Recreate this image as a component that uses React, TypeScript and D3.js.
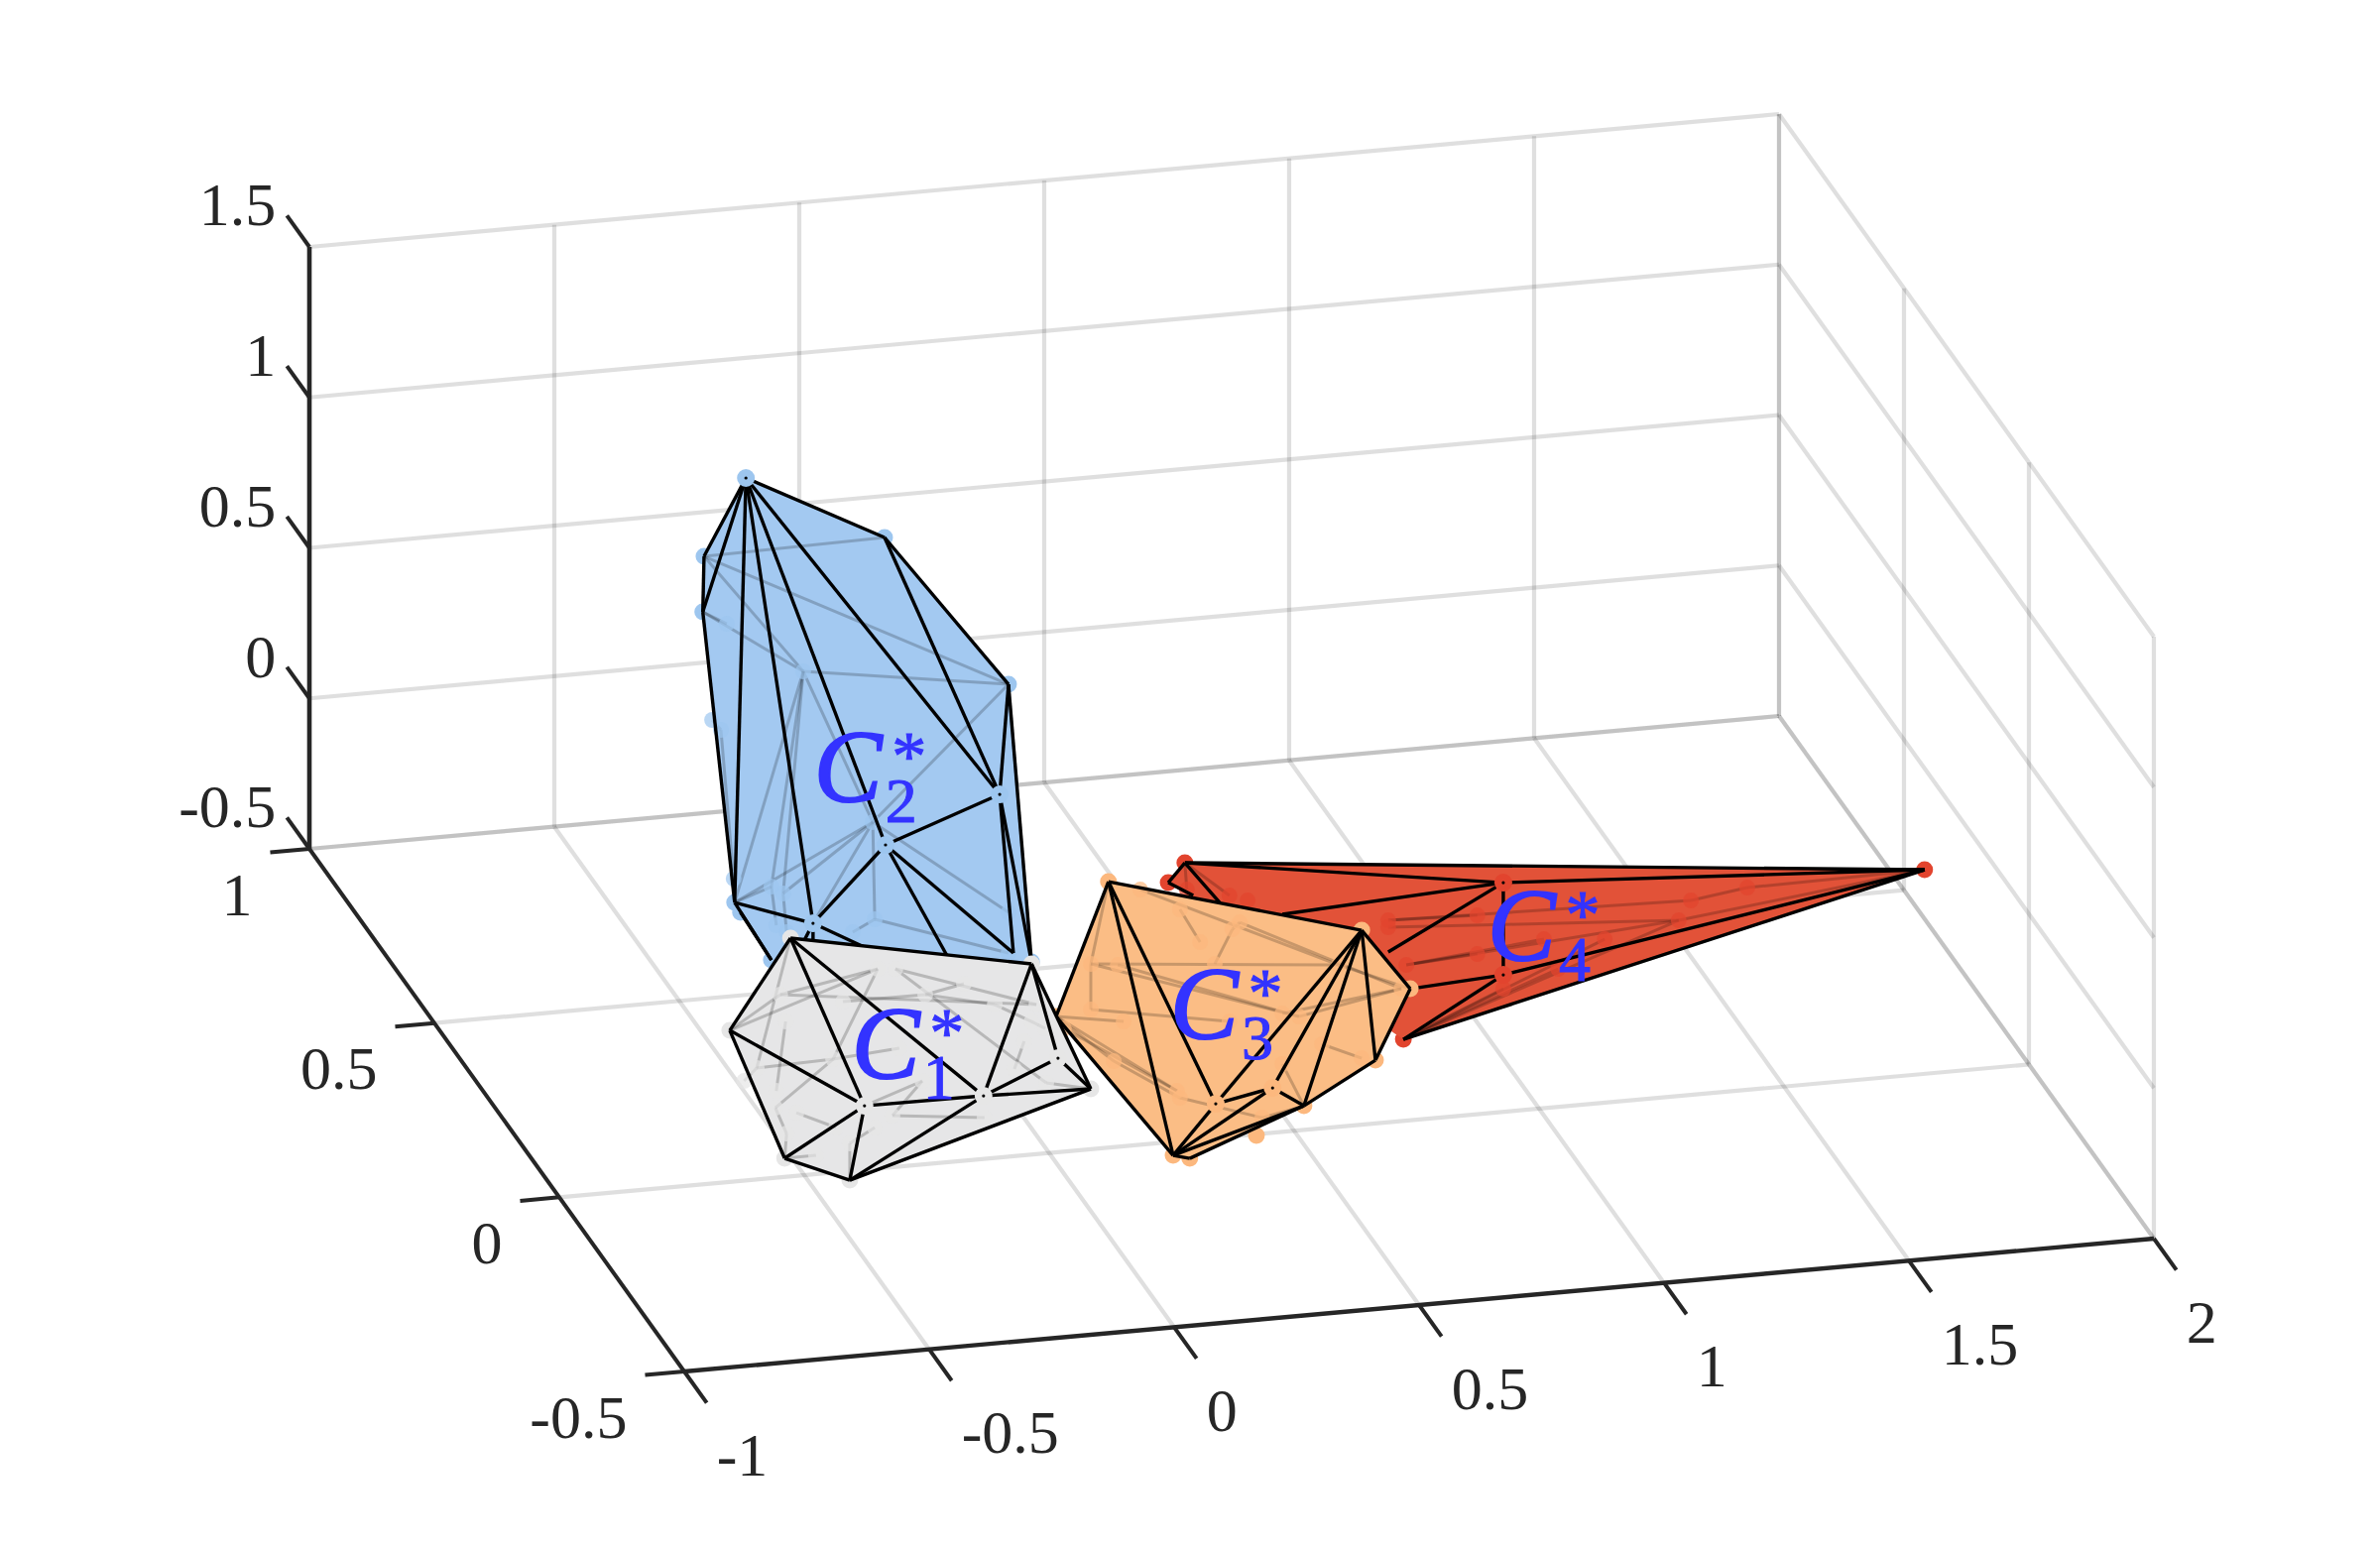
import React from "react";
import * as d3 from "d3";

type V = [number, number, number];
type Verts = Record<string, V>;

const xTicks = [-1, -0.5, 0, 0.5, 1, 1.5, 2];
const yTicks = [-0.5, 0, 0.5, 1];
const zTicks = [-0.5, 0, 0.5, 1, 1.5];
const tickText = (v: number) => String(v);

// ---- cluster C2 ----
const c2Outer: Verts = {
  A: [-0.364, 0.5, 1.2175], B: [-0.4495, 0.5, 0.9697], C: [-0.452, 0.5, 0.7855], D: [-0.081, 0.5, 0.9781],
  E: [0.172, 0.5, 0.4531], F: [0.154, 0.5, 0.0901], G: [-0.079, 0.5, -0.0436], H: [-0.387, 0.5, -0.1895],
  I: [-0.227, 0.5, -0.2822], K: [0.182, 0.5, -0.4413], L: [0.219, 0.5, -0.4763], N: [-0.375, 0.5, -0.2242],
  P: [-0.312, 0.5, -0.3917], O: [0.057, 0.5, -0.4623], Y: [-0.079, 0.5, -0.416], Y2: [-0.227, 0.5, -0.3778], Y3: [-0.257, 0.5, -0.3733],
};
const c2Hidden: Verts = {
  M: [-0.433, 0.5, 0.4236], Q: [-0.247, 0.5, 0.5577], R: [-0.105, 0.5, 0.0359], T1: [-0.101, 0.5, -0.2876],
  U: [-0.312, 0.5, -0.1478], V: [-0.288, 0.5, -0.1744], W1: [0.172, 0.5, -0.3047], W2: [0.172, 0.5, -0.4398],
  W3: [-0.281, 0.5, -0.3038], W4: [-0.302, 0.5, -0.2778], W6: [-0.146, 0.5, -0.3238], X1: [-0.403, 0.5, 0.7387],
  W8: [-0.415, 0.5, 0.388], W9: [-0.389, 0.5, -0.1101],
};
const c2Front = "A-B B-C A-C C-H A-H A-I A-G A-F A-D D-E D-F E-F E-L F-G F-K F-L G-I G-K G-O H-I H-P N-P I-Y I-Y2 I-Y3".split(" ");
const c2Back = "B-D B-E Q-E Q-C Q-B Q-H Q-U Q-V Q-R R-E R-H R-W1 R-T1 R-I T1-W2 T1-W6 U-H U-W4 V-W3 V-R C-X1 M-W8 W8-W9 E-L".split(" ");
const c2Covered = ["A", "G", "I", "F"];

// ---- cluster C1 ----
const c1Outer: Verts = {
  a: [-0.528, 0, 0.2915], b: [-0.036, 0, 0.1335], c: [-0.652, 0, 0.0032], d: [-0.377, 0, -0.2877],
  e: [-0.134, 0, -0.2905], f: [0.018, 0, -0.1877], g: [0.085, 0, -0.2996], h: [-0.54, 0, -0.4382], i: [-0.407, 0, -0.5304],
};
const c1Hidden: Verts = {
  k: [-0.008, 0, -0.0849], m: [-0.623, 0, -0.169], p1: [-0.35, 0, 0.1631], p2: [-0.549, 0, 0.1067], p3: [-0.174, 0, 0.0878],
  p4: [-0.314, 0, 0.1578], p5: [-0.441, 0, -0.1233], p6: [-0.559, 0, -0.2675], p7: [-0.036, 0, -0.0577], p8: [-0.536, 0, -0.3564],
  p9: [-0.306, 0, -0.107], p10: [-0.132, 0, -0.3633], p11: [-0.051, 0, -0.1216], p12: [-0.538, 0, 0.0162], p13: [-0.026, 0, -0.0031],
  p14: [-0.597, 0, -0.13], p15: [-0.557, 0, -0.2118], p16: [-0.421, 0, 0.0648], p17: [-0.253, 0, 0.0631], p18: [-0.111, 0, 0.0094],
  p19: [-0.516, 0, -0.2902], p20: [-0.435, 0, -0.3515], p21: [-0.32, 0, -0.329], p22: [-0.006, 0, -0.2664], p24: [-0.071, 0, -0.2108],
  p25: [-0.259, 0, -0.2227], p26: [-0.476, 0, -0.4379], p27: [-0.407, 0, -0.4084], p28: [-0.356, 0, -0.3632],
};
const c1Front = "a-b a-c a-d a-e c-d c-h b-e b-f b-g d-e d-h d-i e-f e-g e-i h-i i-g f-g".split(" ");
const c1Back = "c-p2 p2-p1 c-p1 a-p14 p2-p13 p4-p13 p4-p22 p12-p15 p14-p5 p5-p9 p5-p6 p5-p1 p6-p8 p8-h p19-p20 p21-p10 p11-p24 p7-p18 p3-p17 i-p27 p26-h p27-p28 g-p22 d-p25 p16-p17 k-p7 i-g m-p14 p17-p18 p25-p21".split(" ");
const c1Covered = ["d", "e", "f"];

// ---- cluster C3 ----
const c3Outer: Verts = {
  A: [0.121, 0, 0.3836], B: [0.638, 0, 0.1462], C: [0.737, 0, -0.0628], D: [0.666, 0, -0.2896], E: [0.52, 0, -0.4197],
  F: [0.423, 0, -0.5043], G: [0.287, 0, -0.5601], H: [0.253, 0, -0.5451], I: [0.34, 0, -0.3866], J: [0.456, 0, -0.3509], K: [0.014, 0, -0.0487],
};
const c3Hidden: Verts = {
  q1: [0.085, 0, 0.1156], q2: [0.085, 0, -0.036], q3: [0.719, 0, -0.0601], q4: [0.51, 0, -0.1217], q5: [0.638, 0, -0.2789],
  q6: [0.261, 0, -0.3321], q7: [0.374, 0, 0.1883], q8: [0.338, 0, 0.0783], q9: [0.267, 0, 0.27], q10: [0.308, 0, 0.1552],
  q11: [0.591, 0, 0.0378], q12: [0.186, 0, 0.3478], q13: [0.03, 0, -0.0906], q14: [0.14, 0, 0.1042], q15: [0.389, 0, 0.2092],
  q16: [0.152, 0, -0.0854], q17: [0.368, 0, -0.1173], q18: [0.476, 0, -0.1067], q19: [0.132, 0, -0.2143], q20: [0.557, 0, -0.2207],
  q21: [0.267, 0, -0.3561], q22: [0.435, 0, -0.4468], q23: [0.476, 0, -0.2747],
};
const c3Front = "A-B A-K A-H A-I K-H B-C B-D B-E B-J B-I C-D D-E E-H E-J I-J I-H J-H E-G G-H".split(" ");
const c3Back = "A-q1 q1-q4 q1-q11 q1-q2 q2-q17 K-q16 K-q6 K-q19 q13-q6 q12-q11 q9-q10 q7-q8 q7-q15 q3-q4 C-q11 q3-q18 q5-q20 q19-q21 q21-q22 q22-E q23-E q14-q4 q15-q3".split(" ");
const c3Covered = ["I", "J"];

// ---- cluster C4 ----
const c4Outer: Verts = {
  T: [1.787, 0, 0.178], a: [0.277, 0, 0.4233], b: [0.243, 0, 0.3624], c: [0.723, 0, -0.2288], d: [0.927, 0, 0.2617], e: [0.927, 0, -0.0447],
  s1: [0.348, 0, 0.281], s2: [0.476, 0, 0.2228], s3: [0.692, 0, 0.0657], s4: [0.294, 0, 0.3122], s5: [0.737, 0, -0.0628],
};
const c4Hidden: Verts = {
  r1: [1.285, 0, 0.0838], r2: [0.692, 0, 0.1711], r3: [0.692, 0, 0.1481], r4: [0.729, 0, 0.0175], r5: [1.425, 0, 0.172],
  r6: [1.31, 0, 0.1461], r7: [1.134, 0, 0.0435], r8: [1.01, 0, 0.0617], r9: [1.039, 0, -0.0413], r10: [0.927, 0, -0.0908],
  r13: [0.368, 0, 0.3012], r17: [0.405, 0, 0.2793], r14: [0.874, 0, 0.0323], r15: [0.874, 0, 0.1608], r16: [0.281, 0, 0.3338],
};
const c4Front = "a-T a-d a-s1 s2-d d-T d-e d-s3 e-T e-s5 e-c c-T b-a b-s4".split(" ");
const c4Back = "T-r5 r5-r6 r6-r2 T-r1 r1-r3 r1-r4 r1-c r7-c r9-c r10-c r2-r15 r4-r14 a-r16 r8-r4 T-c a-r13".split(" ");
const c4Covered = ["d", "e"];

const clusters = [
  { outer: c2Outer, hidden: c2Hidden, front: c2Front, back: c2Back, covered: c2Covered, hull: ["A", "B", "C", "H", "N", "P", "K", "L", "E", "D"], fill: "#a3c9f1", dot: "#9dc6ef", skipDots: ["Y", "Y2", "Y3", "O"] },
  { outer: c4Outer, hidden: c4Hidden, front: c4Front, back: c4Back, covered: c4Covered, hull: ["a", "b", "c", "T"], fill: "#e25238", dot: "#e2442e", skipDots: ["s1", "s2", "s3", "s4", "s5"] },
  { outer: c3Outer, hidden: c3Hidden, front: c3Front, back: c3Back, covered: c3Covered, hull: ["A", "B", "C", "D", "E", "G", "H", "K"], fill: "#fbbd85", dot: "#fcb87e", skipDots: [] as string[] },
  { outer: c1Outer, hidden: c1Hidden, front: c1Front, back: c1Back, covered: c1Covered, hull: ["a", "b", "g", "i", "h", "c"], fill: "#e6e6e7", dot: "#e6e6e6", skipDots: [] as string[] },
];

const labelText = ["1", "2", "3", "4"];
const labelAnchors: V[] = [[-0.395, 0, -0.1928], [-0.217, 0.5, 0.1215], [0.255, 0, -0.1567], [0.903, 0, 0.0083]];

// ---- projection (orthographic) built from one scale per axis and screen direction ----
const ORIGIN = [690, 1383];
const xH = d3.scaleLinear().domain([-1, 2]).range([0, 1482]);
const xV = d3.scaleLinear().domain([-1, 2]).range([0, -134]);
const yH = d3.scaleLinear().domain([-0.5, 1]).range([0, -378]);
const yV = d3.scaleLinear().domain([-0.5, 1]).range([0, -527]);
const zV = d3.scaleLinear().domain([-0.5, 1.5]).range([0, -607]);
const project = (x: number, y: number, z: number): [number, number] => [
  ORIGIN[0] + xH(x) + yH(y),
  ORIGIN[1] + xV(x) + yV(y) + zV(z),
];
const P = (v: V) => project(v[0], v[1], v[2]);
const line = d3.line();
const seg = (a: [number, number], b: [number, number]) => line([a, b]) as string;

const INK = "#262626";
const FONT = "'Liberation Serif', 'Times New Roman', serif";
const xMin = -1, xMax = 2, yMin = -0.5, yMax = 1, zMin = -0.5, zMax = 1.5;

function Grid() {
  const paths: string[] = [];
  zTicks.forEach((z) => {
    paths.push(seg(project(xMin, yMax, z), project(xMax, yMax, z)));
    paths.push(seg(project(xMax, yMin, z), project(xMax, yMax, z)));
  });
  xTicks.forEach((x) => {
    paths.push(seg(project(x, yMax, zMin), project(x, yMax, zMax)));
    if (x > xMin) paths.push(seg(project(x, yMin, zMin), project(x, yMax, zMin)));
  });
  yTicks.forEach((y) => {
    paths.push(seg(project(xMax, y, zMin), project(xMax, y, zMax)));
    if (y > yMin) paths.push(seg(project(xMin, y, zMin), project(xMax, y, zMin)));
  });
  return (
    <g stroke={INK} strokeOpacity={0.15} strokeWidth={4.2} fill="none">
      {paths.map((d, i) => <path key={i} d={d} />)}
    </g>
  );
}

function Axes() {
  const tz = 0.09, tx = 0.08;
  return (
    <g stroke={INK} fill="none">
      <path d={seg(project(xMin, yMax, zMin), project(xMin, yMax, zMax))} strokeWidth={4.6} />
      <path d={seg(project(xMin, yMin, zMin), project(xMin, yMax, zMin))} strokeWidth={4} />
      <path d={seg(project(xMin, yMin, zMin), project(xMax, yMin, zMin))} strokeWidth={4.4} />
      <g strokeWidth={4}>
        {xTicks.map((x) => <path key={x} d={seg(project(x, yMin, zMin), project(x, yMin - tz, zMin))} />)}
        {yTicks.map((y) => <path key={y} d={seg(project(xMin, y, zMin), project(xMin - tx, y, zMin))} />)}
        {zTicks.map((z) => <path key={z} d={seg(project(xMin, yMax, z), project(xMin, yMax + tz, z))} />)}
      </g>
      <g stroke="none" fill={INK} fontFamily={FONT} fontSize={62}>
        {xTicks.map((x) => {
          const [a, b] = project(x, yMin - tz, zMin);
          return <text key={x} x={a + 10} y={b + 73}>{tickText(x)}</text>;
        })}
        {yTicks.map((y) => {
          const [a, b] = project(xMin - tx, y, zMin);
          return <text key={y} x={a - 18} y={b + 63} textAnchor="end">{tickText(y)}</text>;
        })}
        {zTicks.map((z) => {
          const [a, b] = project(xMin, yMax + tz, z);
          return <text key={z} x={a - 11} y={b + 10} textAnchor="end">{tickText(z)}</text>;
        })}
      </g>
    </g>
  );
}

function Cluster({ c }: { c: (typeof clusters)[number] }) {
  const all: Verts = { ...c.outer, ...c.hidden };
  const hull = d3.polygonHull(c.hull.map((k) => P(all[k]))) as [number, number][];
  const edge = (s: string) => {
    const [a, b] = s.split("-");
    return seg(P(all[a]), P(all[b]));
  };
  const outerKeys = Object.keys(c.outer).filter((k) => !c.skipDots.includes(k));
  return (
    <g>
      {outerKeys.filter((k) => !c.covered.includes(k)).map((k) => {
        const [a, b] = P(all[k]);
        return <circle key={k} cx={a} cy={b} r={8.5} fill={c.dot} />;
      })}
      <path d={`M${hull.map((p) => p.join(",")).join("L")}Z`} fill={c.fill} />
      <g stroke="#000" strokeOpacity={0.2} strokeWidth={3} fill="none">
        {c.back.map((s, i) => <path key={i} d={edge(s)} />)}
      </g>
      {Object.keys(c.hidden).map((k) => {
        const [a, b] = P(all[k]);
        return <circle key={k} cx={a} cy={b} r={8} fill={c.dot} fillOpacity={0.7} />;
      })}
      <g stroke="#000" strokeWidth={3.4} fill="none" strokeLinejoin="round">
        {c.front.map((s, i) => <path key={i} d={edge(s)} />)}
      </g>
      {c.covered.map((k) => {
        const [a, b] = P(all[k]);
        return (
          <g key={k}>
            <circle cx={a} cy={b} r={9} fill={c.dot} />
            <circle cx={a} cy={b} r={1.6} fill="#000" />
          </g>
        );
      })}
    </g>
  );
}

function Labels() {
  return (
    <g fill="#3333ff" stroke="#3333ff" fontFamily={FONT}>
      {labelAnchors.map((v, i) => {
        const [a, b] = P(v);
        return (
          <g key={i}>
            <text x={a - 4} y={b} fontSize={103} fontStyle="italic" strokeWidth={2}>C</text>
            <text x={a + 68} y={b + 21} fontSize={64} strokeWidth={1}>{labelText[i]}</text>
            <text x={a + 92} y={b - 22} fontSize={70} textAnchor="middle" strokeWidth={1}>*</text>
          </g>
        );
      })}
    </g>
  );
}

export default function App() {
  return (
    <svg width={2400} height={1560} viewBox="0 0 2400 1560" style={{ position: "absolute", left: 0, top: 0, display: "block", background: "#fff", filter: "blur(0.5px)" }}>
      <Grid />
      <Axes />
      {clusters.map((c, i) => <Cluster key={i} c={c} />)}
      <Labels />
    </svg>
  );
}
